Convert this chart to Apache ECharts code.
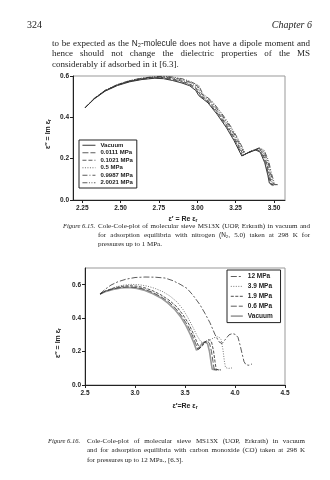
<!DOCTYPE html>
<html><head><meta charset="utf-8">
<script src="https://cdn.jsdelivr.net/npm/echarts@6/dist/echarts.min.js"></script>
<style>html,body{margin:0;padding:0;background:#fff}#c{width:330px;height:480px}</style>
</head><body><div id="c"></div>
<script>
// ---------- texts ----------
const pageNumber = '324';
const chapterTitle = 'Chapter 6';
const paragraphLines = [
  'to be expected as the N₂-molecule does not have a dipole moment and',
  'hence should not change the dielectric properties of the MS',
  'considerably if adsorbed in it [6.3].'
];
const caption15Label = 'Figure 6.15.';
const caption15Lines = [
  'Cole-Cole-plot of molecular sieve MS13X (UOP, Erkrath) in vacuum and',
  'for adsorption equilibria with nitrogen (N₂, 5.0) taken at 298 K for',
  'pressures up to 1 MPa.'
];
const caption16Label = 'Figure 6.16.';
const caption16Lines = [
  'Cole-Cole-plot of molecular sieve MS13X (UOP, Erkrath) in vacuum',
  'and for adsorption equilibria with carbon monoxide (CO) taken at 298 K',
  'for pressures up to 12 MPa., [6.3].'
];

// ---------- Figure 6.15 data (x = Re, y = Im) ----------
const f15Names = ['Vacuum', '0.0111 MPa', '0.1021 MPa', '0.5 MPa', '0.9987 MPa', '2.0021 MPa'];
const f15XTicks = [2.25, 2.50, 2.75, 3.00, 3.25, 3.50];
const f15YTicks = [0, 0.2, 0.4, 0.6];
const f15_vacuum = [[2.27,0.447],[2.33,0.490],[2.40,0.527],[2.48,0.554],[2.56,0.572],[2.64,0.583],[2.72,0.589],[2.78,0.587],[2.84,0.578],[2.90,0.566],[2.95,0.553],[2.99,0.530],[3.01,0.505],[3.07,0.470],[3.13,0.414],[3.19,0.350],[3.24,0.287],[3.29,0.213],[3.33,0.228],[3.38,0.242],[3.41,0.232],[3.44,0.180],[3.46,0.120],[3.47,0.082],[3.49,0.070]];
const f15_p0111 = [[2.27,0.447],[2.33,0.491],[2.40,0.528],[2.48,0.556],[2.56,0.574],[2.64,0.585],[2.72,0.591],[2.78,0.590],[2.84,0.582],[2.90,0.571],[2.95,0.558],[2.995,0.534],[3.015,0.507],[3.075,0.471],[3.135,0.416],[3.195,0.352],[3.245,0.289],[3.295,0.215],[3.335,0.230],[3.385,0.244],[3.415,0.234],[3.445,0.182],[3.465,0.121],[3.477,0.080],[3.495,0.071]];
const f15_p1021 = [[2.27,0.447],[2.33,0.492],[2.40,0.530],[2.48,0.557],[2.56,0.575],[2.64,0.587],[2.72,0.593],[2.78,0.593],[2.84,0.586],[2.90,0.575],[2.95,0.562],[2.995,0.540],[3.02,0.509],[3.08,0.473],[3.14,0.418],[3.20,0.354],[3.25,0.291],[3.30,0.217],[3.34,0.232],[3.39,0.246],[3.42,0.236],[3.45,0.184],[3.47,0.122],[3.483,0.079],[3.50,0.071]];
const f15_p5 = [[2.27,0.447],[2.33,0.491],[2.40,0.529],[2.48,0.557],[2.56,0.576],[2.64,0.588],[2.72,0.594],[2.78,0.595],[2.84,0.589],[2.90,0.579],[2.95,0.567],[3.00,0.546],[3.025,0.511],[3.085,0.475],[3.145,0.420],[3.205,0.356],[3.255,0.293],[3.305,0.219],[3.345,0.234],[3.395,0.248],[3.425,0.238],[3.455,0.186],[3.475,0.123],[3.49,0.078],[3.507,0.072]];
const f15_p9987 = [[2.27,0.447],[2.33,0.492],[2.40,0.530],[2.48,0.558],[2.56,0.577],[2.64,0.589],[2.72,0.596],[2.78,0.597],[2.84,0.592],[2.90,0.583],[2.95,0.571],[3.005,0.550],[3.03,0.513],[3.09,0.477],[3.15,0.422],[3.21,0.358],[3.26,0.295],[3.31,0.221],[3.35,0.236],[3.40,0.250],[3.43,0.240],[3.46,0.188],[3.48,0.124],[3.497,0.077],[3.515,0.073]];
const f15_p20021 = [[2.27,0.447],[2.33,0.493],[2.40,0.531],[2.48,0.559],[2.56,0.578],[2.64,0.590],[2.72,0.597],[2.78,0.599],[2.84,0.595],[2.90,0.587],[2.95,0.575],[3.01,0.554],[3.035,0.515],[3.095,0.479],[3.155,0.424],[3.215,0.360],[3.265,0.297],[3.315,0.223],[3.355,0.238],[3.405,0.252],[3.435,0.242],[3.465,0.190],[3.485,0.125],[3.505,0.076],[3.525,0.074]];

// ---------- Figure 6.16 data ----------
const f16Names = ['12 MPa', '3.9 MPa', '1.9 MPa', '0.6 MPa', 'Vacuum '];
const f16XTicks = [2.5, 3.0, 3.5, 4.0, 4.5];
const f16YTicks = [0, 0.2, 0.4, 0.6];
const f16_p12 = [[2.65,0.544],[2.70,0.572],[2.76,0.598],[2.83,0.618],[2.91,0.633],[3.00,0.643],[3.10,0.646],[3.20,0.645],[3.30,0.640],[3.38,0.624],[3.45,0.603],[3.52,0.578],[3.58,0.537],[3.65,0.480],[3.70,0.428],[3.75,0.372],[3.80,0.302],[3.84,0.258],[3.87,0.248],[3.90,0.270],[3.94,0.300],[3.975,0.308],[4.005,0.302],[4.03,0.285],[4.05,0.240],[4.07,0.190],[4.09,0.140],[4.11,0.121],[4.14,0.118],[4.17,0.126]];
const f16_p39 = [[2.65,0.544],[2.72,0.565],[2.80,0.585],[2.88,0.597],[2.96,0.602],[3.04,0.600],[3.12,0.592],[3.20,0.578],[3.28,0.558],[3.35,0.532],[3.42,0.497],[3.48,0.452],[3.53,0.402],[3.58,0.345],[3.62,0.295],[3.66,0.258],[3.70,0.250],[3.74,0.266],[3.79,0.283],[3.835,0.290],[3.86,0.272],[3.88,0.210],[3.893,0.145],[3.905,0.105],[3.93,0.099],[3.97,0.102]];
const f16_p19 = [[2.65,0.544],[2.70,0.562],[2.78,0.579],[2.86,0.590],[2.94,0.594],[3.02,0.591],[3.10,0.581],[3.18,0.563],[3.26,0.539],[3.34,0.508],[3.42,0.467],[3.48,0.420],[3.54,0.363],[3.585,0.305],[3.62,0.255],[3.645,0.218],[3.675,0.235],[3.71,0.262],[3.74,0.272],[3.765,0.258],[3.785,0.205],[3.80,0.140],[3.812,0.093],[3.83,0.088],[3.86,0.090]];
const f16_p06 = [[2.65,0.544],[2.70,0.560],[2.78,0.575],[2.86,0.584],[2.94,0.587],[3.02,0.583],[3.10,0.572],[3.18,0.553],[3.26,0.528],[3.34,0.496],[3.41,0.456],[3.47,0.410],[3.525,0.358],[3.57,0.302],[3.605,0.250],[3.63,0.212],[3.66,0.228],[3.69,0.254],[3.72,0.264],[3.745,0.250],[3.765,0.200],[3.78,0.140],[3.792,0.094],[3.81,0.088],[3.84,0.090]];
const f16_vacuum = [[2.65,0.544],[2.70,0.558],[2.78,0.572],[2.86,0.580],[2.94,0.583],[3.02,0.578],[3.10,0.566],[3.18,0.546],[3.26,0.521],[3.33,0.490],[3.40,0.450],[3.46,0.405],[3.51,0.355],[3.555,0.300],[3.59,0.250],[3.615,0.208],[3.64,0.222],[3.67,0.248],[3.70,0.260],[3.725,0.248],[3.745,0.200],[3.76,0.140],[3.772,0.095],[3.79,0.088],[3.82,0.088]];

// ---------- helpers ----------
const serif = '"Liberation Serif", "DejaVu Serif", serif';
const sans = '"Liberation Sans", "DejaVu Sans", sans-serif';
const ink = '#222';
const mctx = document.createElement('canvas').getContext('2d');
function measure(t, font) { mctx.font = font; return mctx.measureText(t).width; }
function wordFont(w, size, style) {
  if (w.indexOf('₂') >= 0) return (size * 0.92) + 'px ' + sans;
  return (style ? style + ' ' : '') + size + 'px ' + serif;
}
function textLine(text, x0, x1, y, size, justify, style) {
  const words = text.split(' ');
  const fonts = words.map(w => wordFont(w, size, style));
  const widths = words.map((w, i) => measure(w, fonts[i]));
  const total = widths.reduce((a, b) => a + b, 0);
  const space = measure(' ', size + 'px ' + serif);
  const gap = (justify && words.length > 1) ? (x1 - x0 - total) / (words.length - 1) : space;
  let x = x0; const els = [];
  words.forEach((w, i) => {
    els.push({ type: 'text', x: x, y: y, silent: true,
      style: { text: w, font: fonts[i], fill: ink, textAlign: 'left', textVerticalAlign: 'middle' } });
    x += widths[i] + gap;
  });
  return els;
}
function axisTitle(main, sub, x, y, rot) {
  return { type: 'text', x: x, y: y, rotation: rot || 0, silent: true,
    style: { text: '{a|' + main + '}{s|' + sub + '}', textAlign: 'center', textVerticalAlign: 'middle',
      rich: { a: { font: 'bold 7px ' + sans, fill: ink, lineHeight: 9 },
              s: { font: 'bold 5px ' + sans, fill: ink, padding: [3, 0, 0, 0], lineHeight: 9 } } } };
}

const graphics = [];
graphics.push({ type: 'text', x: 27, y: 25, silent: true, style: { text: pageNumber, font: '10px ' + serif, fill: ink, textVerticalAlign: 'middle' } });
graphics.push({ type: 'text', x: 312, y: 25, silent: true, style: { text: chapterTitle, font: 'italic 10px ' + serif, fill: ink, textAlign: 'right', textVerticalAlign: 'middle' } });
const pY = [43.5, 54, 64.5];
paragraphLines.forEach((l, i) => graphics.push(...textLine(l, 52, 310, pY[i], 9, i < 2)));
graphics.push({ type: 'text', x: 95, y: 226, silent: true, style: { text: caption15Label, font: 'italic 6.5px ' + serif, fill: ink, textAlign: 'right', textVerticalAlign: 'middle' } });
const c15Y = [226, 235, 244];
caption15Lines.forEach((l, i) => graphics.push(...textLine(l, 98, 310, c15Y[i], 7, i < 2)));
graphics.push({ type: 'text', x: 48, y: 441, silent: true, style: { text: caption16Label, font: 'italic 6.5px ' + serif, fill: ink, textVerticalAlign: 'middle' } });
const c16Y = [441, 450.5, 460];
caption16Lines.forEach((l, i) => graphics.push(...textLine(l, 87, 305, c16Y[i], 7, i < 2)));
graphics.push(axisTitle('ε″ = Im ε', 'r', 48, 134, Math.PI / 2));
graphics.push(axisTitle('ε′ = Re ε', 'r', 183, 219, 0));
graphics.push(axisTitle('ε″ = Im ε', 'r', 58, 343, Math.PI / 2));
graphics.push(axisTitle('ε′=Re ε', 'r', 185, 406, 0));

function ser(name, data, gi, dash, color, width) {
  return { type: 'line', name: name, data: data, xAxisIndex: gi, yAxisIndex: gi, symbol: 'none',
    showSymbol: false, silent: true, color: color, itemStyle: { color: color },
    lineStyle: { color: color, width: width, type: dash } };
}
const axisLabelStyle = { color: ink, fontFamily: sans, fontWeight: 'bold', fontSize: 6.5 };
const axLine = { show: true, onZero: false, lineStyle: { color: '#222', width: 1 } };
const tickOut = { show: true, inside: false, length: 3, lineStyle: { color: '#222', width: 1 } };
const legendHiddenSymbol = { opacity: 0, color: 'transparent', borderWidth: 0 };

const option = {
  animation: false,
  backgroundColor: '#fff',
  grid: [
    { left: 73, top: 76, width: 212, height: 124, show: true, borderColor: '#999', borderWidth: 1 },
    { left: 85, top: 268, width: 200, height: 117, show: true, borderColor: '#999', borderWidth: 1 }
  ],
  xAxis: [
    { type: 'value', gridIndex: 0, min: 2.19, max: 3.572, axisLine: axLine, splitLine: { show: false },
      axisTick: Object.assign({ customValues: f15XTicks }, tickOut),
      axisLabel: Object.assign({ customValues: f15XTicks, margin: 5, formatter: v => v.toFixed(2) }, axisLabelStyle) },
    { type: 'value', gridIndex: 1, min: 2.5, max: 4.5, interval: 0.5, axisLine: axLine, splitLine: { show: false },
      axisTick: tickOut,
      axisLabel: Object.assign({ margin: 5, formatter: v => v.toFixed(1) }, axisLabelStyle) }
  ],
  yAxis: [
    { type: 'value', gridIndex: 0, min: 0, max: 0.6, axisLine: axLine, splitLine: { show: false },
      axisTick: Object.assign({ customValues: f15YTicks }, tickOut),
      axisLabel: Object.assign({ customValues: f15YTicks, margin: 4, formatter: v => v.toFixed(1) }, axisLabelStyle) },
    { type: 'value', gridIndex: 1, min: 0, max: 0.7, axisLine: axLine, splitLine: { show: false },
      axisTick: Object.assign({ customValues: f16YTicks }, tickOut),
      axisLabel: Object.assign({ customValues: f16YTicks, margin: 4, formatter: v => v.toFixed(1) }, axisLabelStyle) }
  ],
  legend: [
    { data: f15Names, orient: 'vertical', left: 79, top: 140, itemWidth: 13, itemHeight: 5, itemGap: 1,
      padding: [2, 4, 2, 3], borderColor: '#222', borderWidth: 1, selectedMode: false,
      itemStyle: legendHiddenSymbol, lineStyle: { width: 'inherit' },
      textStyle: { color: ink, fontFamily: sans, fontWeight: 'bold', fontSize: 6, lineHeight: 6.5 } },
    { data: f16Names, orient: 'vertical', left: 227, top: 270, itemWidth: 12, itemHeight: 6, itemGap: 2.9,
      padding: [3, 6, 3, 3], borderColor: '#222', borderWidth: 1, selectedMode: false,
      itemStyle: legendHiddenSymbol, lineStyle: { width: 'inherit' },
      textStyle: { color: ink, fontFamily: sans, fontWeight: 'bold', fontSize: 6.5, lineHeight: 6.5 } }
  ],
  graphic: graphics,
  series: [
    ser(f15Names[0], f15_vacuum, 0, 'solid', '#222', 0.9),
    ser(f15Names[1], f15_p0111, 0, [6, 2], '#333', 0.8),
    ser(f15Names[2], f15_p1021, 0, [4, 2], '#333', 0.8),
    ser(f15Names[3], f15_p5, 0, [1, 1.5], '#444', 0.8),
    ser(f15Names[4], f15_p9987, 0, [5, 2, 1, 2], '#333', 0.8),
    ser(f15Names[5], f15_p20021, 0, [5, 1.5, 1, 1.5, 1, 1.5], '#333', 0.8),
    ser(f16Names[4], f16_vacuum, 1, 'solid', '#9a9a9a', 1.6),
    ser(f16Names[3], f16_p06, 1, [6, 2], '#333', 0.8),
    ser(f16Names[2], f16_p19, 1, [3, 1.5], '#222', 0.8),
    ser(f16Names[1], f16_p39, 1, [1, 1.5], '#555', 0.8),
    ser(f16Names[0], f16_p12, 1, [6, 2, 2, 2], '#333', 0.8)
  ]
};
const chart = echarts.init(document.getElementById('c'));
chart.setOption(option);
</script>
</body></html>
